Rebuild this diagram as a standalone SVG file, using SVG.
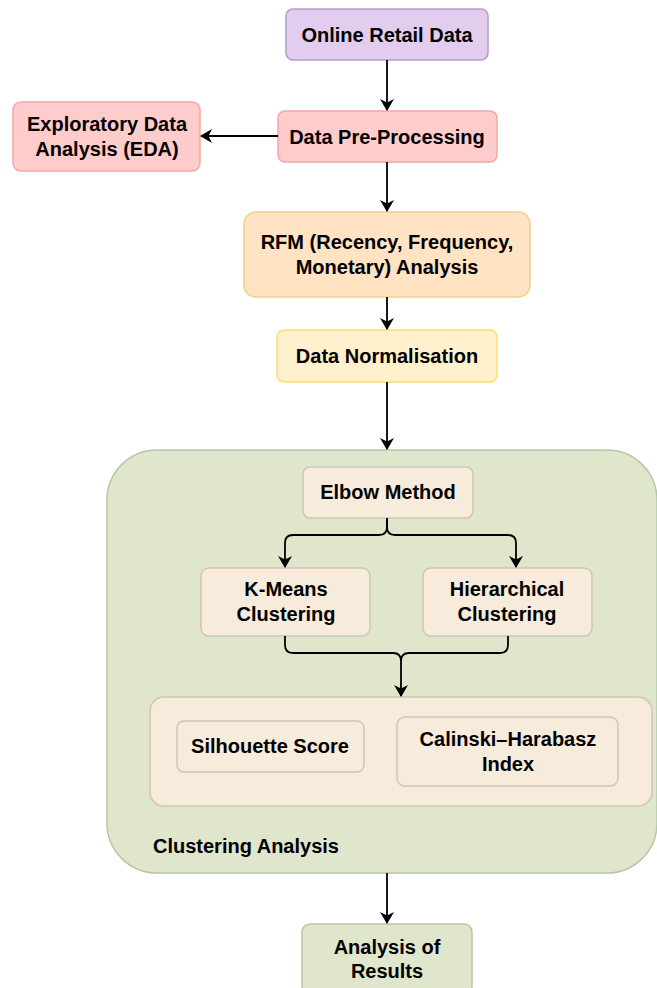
<svg xmlns="http://www.w3.org/2000/svg" width="657" height="988" viewBox="0 0 657 988">
<defs>
<marker id="ah" viewBox="0 0 12 14" refX="11" refY="7" markerWidth="12" markerHeight="14" markerUnits="userSpaceOnUse" orient="auto">
<path d="M0,0 L12,7 L0,14 L3.5,7 Z" fill="#000"/>
</marker>
<style>
text{font-family:"Liberation Sans",Arial,Helvetica,sans-serif;font-weight:bold;font-size:20px;fill:#000;text-anchor:middle;dominant-baseline:central}
.c{fill:none;stroke:#000;stroke-width:1.8}
.purple{fill:#e2cdee;stroke:#b79acb;stroke-width:1.5}
.pink{fill:#ffcccc;stroke:#f4a6a6;stroke-width:1.5}
.orange{fill:#ffe3c2;stroke:#f0d08c;stroke-width:1.5}
.yellow{fill:#fff1cc;stroke:#ffdb70;stroke-width:1.5}
.green{fill:#dfe6cb;stroke:#b7c7a5;stroke-width:1.5}
.beige{fill:#f7ebdb;stroke:#d2c5b3;stroke-width:1.5}
</style>
</defs>
<g id="clustering-analysis">
<rect class="green" x="107" y="450" width="550" height="423" rx="50"/>
<text x="153" y="846" style="text-anchor:start">Clustering Analysis</text>
</g>
<g id="online-retail-data">
<rect class="purple" x="286" y="9" width="202" height="51" rx="7"/>
<text x="387" y="35">Online Retail Data</text>
</g>
<g id="data-pre-processing">
<rect class="pink" x="278" y="111" width="219" height="51" rx="7"/>
<text x="387" y="137">Data Pre-Processing</text>
</g>
<g id="eda">
<rect class="pink" x="13" y="102" width="187" height="69" rx="8"/>
<text x="107" y="124">Exploratory Data</text>
<text x="107" y="149">Analysis (EDA)</text>
</g>
<g id="rfm">
<rect class="orange" x="244" y="212" width="286" height="85" rx="12"/>
<text x="387" y="242">RFM (Recency, Frequency,</text>
<text x="387" y="267">Monetary) Analysis</text>
</g>
<g id="data-normalisation">
<rect class="yellow" x="277" y="330" width="220" height="52" rx="7"/>
<text x="387" y="356">Data Normalisation</text>
</g>
<g id="elbow-method">
<rect class="beige" x="303" y="467" width="170" height="51" rx="7"/>
<text x="388" y="492">Elbow Method</text>
</g>
<g id="k-means">
<rect class="beige" x="201" y="568" width="169" height="68" rx="8"/>
<text x="286" y="589">K-Means</text>
<text x="286" y="614">Clustering</text>
</g>
<g id="hierarchical">
<rect class="beige" x="423" y="568" width="169" height="68" rx="8"/>
<text x="507" y="589">Hierarchical</text>
<text x="507" y="614">Clustering</text>
</g>
<g id="evaluation">
<rect class="beige" x="150" y="697" width="502" height="109" rx="14"/>
</g>
<g id="silhouette-score">
<rect class="beige" x="177" y="721" width="187" height="51" rx="7"/>
<text x="270" y="746">Silhouette Score</text>
</g>
<g id="calinski-harabasz">
<rect class="beige" x="397" y="717" width="221" height="69" rx="8"/>
<text x="508" y="739">Calinski–Harabasz</text>
<text x="508" y="764">Index</text>
</g>
<g id="analysis-of-results">
<rect class="green" x="302" y="924" width="170" height="70" rx="8"/>
<text x="387" y="947">Analysis of</text>
<text x="387" y="971">Results</text>
</g>
<g id="connectors">
<path class="c" d="M387,60 L387,110" marker-end="url(#ah)"/>
<path class="c" d="M278,136 L201,136" marker-end="url(#ah)"/>
<path class="c" d="M387,162 L387,211" marker-end="url(#ah)"/>
<path class="c" d="M387,297 L387,329" marker-end="url(#ah)"/>
<path class="c" d="M387,382 L387,449" marker-end="url(#ah)"/>
<path class="c" d="M387,518 L387,527 Q387,535 379,535 L293,535 Q285,535 285,543 L285,567" marker-end="url(#ah)"/>
<path class="c" d="M387,518 L387,527 Q387,535 395,535 L508,535 Q516,535 516,543 L516,567" marker-end="url(#ah)"/>
<path class="c" d="M285,636 L285,645 Q285,653 293,653 L393,653 Q401,653 401,661 L401,696" marker-end="url(#ah)"/>
<path class="c" d="M508,636 L508,645 Q508,653 500,653 L409,653 Q401,653 401,661"/>
<path class="c" d="M387,873 L387,923" marker-end="url(#ah)"/>
</g>
</svg>
